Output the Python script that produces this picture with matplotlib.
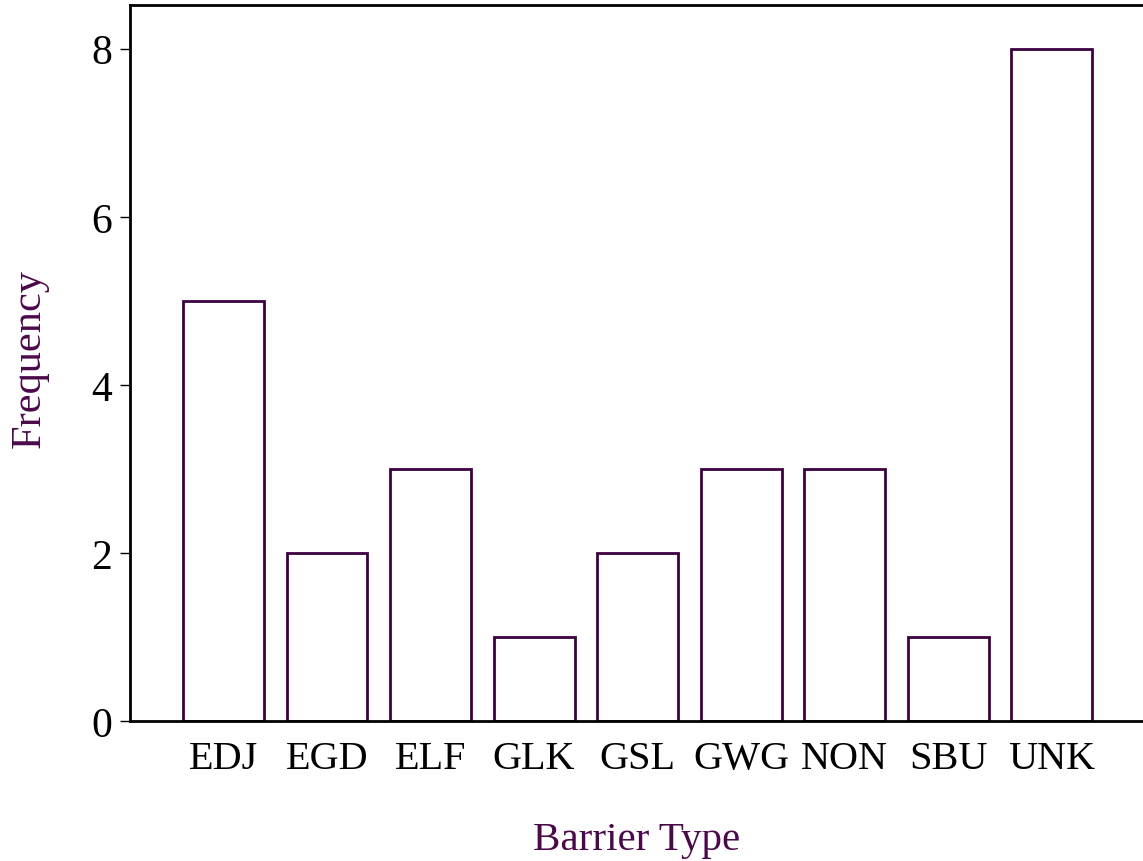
import matplotlib
matplotlib.use('Agg')
import matplotlib.pyplot as plt

# Barrier type counts
barrier_types = ['EDJ', 'EGD', 'ELF', 'GLK', 'GSL', 'GWG', 'NON', 'SBU', 'UNK']
frequency = [5, 2, 3, 1, 2, 3, 3, 1, 8]

edge_color = '#3c0040'
label_color = '#4a0a4a'

plt.rcParams['font.family'] = ['Liberation Serif', 'DejaVu Serif']

fig = plt.figure(figsize=(11.43, 8.62), dpi=100)
ax = fig.add_axes([0.1137, 0.1624, 0.8863, 0.8306])

x = range(len(barrier_types))
ax.bar(x, frequency, width=0.78, facecolor='white', edgecolor=edge_color, linewidth=2)

ax.set_xlim(-0.903, 8.88)
ax.set_ylim(0, 8.52)
ax.set_xticks(list(x))
ax.set_xticklabels(barrier_types)
ax.set_yticks([0, 2, 4, 6, 8])

ax.tick_params(axis='x', length=0, pad=14, labelsize=29)
ax.tick_params(axis='y', length=7, width=1, pad=6, labelsize=30, direction='out')

for side in ['left', 'top', 'bottom']:
    ax.spines[side].set_linewidth(2)
    ax.spines[side].set_color('black')
ax.spines['right'].set_visible(False)

ax.set_xlabel('Barrier Type', fontsize=29.5, color=label_color, labelpad=31)
ax.set_ylabel('Frequency', fontsize=30.5, color=label_color)
ax.yaxis.set_label_coords(-0.08, 0.508)

fig.savefig('out.png', dpi=100)
plt.close(fig)
